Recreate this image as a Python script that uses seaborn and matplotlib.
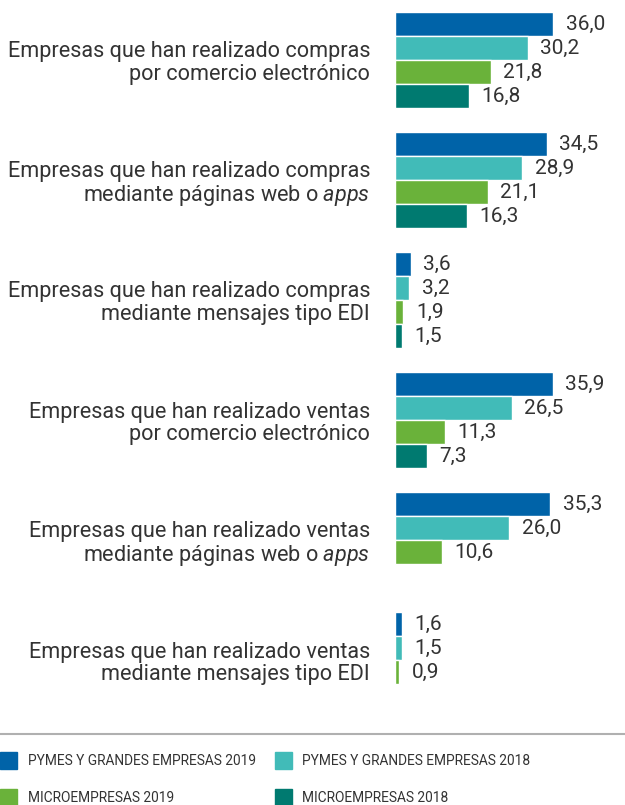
import matplotlib.pyplot as plt
import seaborn as sns
import pandas as pd
import numpy as np
from matplotlib.patches import Patch
from matplotlib.lines import Line2D

categories = [
    "Empresas que han realizado compras\npor comercio electrónico",
    "Empresas que han realizado compras\nmediante páginas web o $\\mathit{apps}$",
    "Empresas que han realizado compras\nmediante mensajes tipo EDI",
    "Empresas que han realizado ventas\npor comercio electrónico",
    "Empresas que han realizado ventas\nmediante páginas web o $\\mathit{apps}$",
    "Empresas que han realizado ventas\nmediante mensajes tipo EDI",
]
series = [
    "PYMES Y GRANDES EMPRESAS 2019",
    "PYMES Y GRANDES EMPRESAS 2018",
    "MICROEMPRESAS 2019",
    "MICROEMPRESAS 2018",
]
pymes_2019 = [36.0, 34.5, 3.6, 35.9, 35.3, 1.6]
pymes_2018 = [30.2, 28.9, 3.2, 26.5, 26.0, 1.5]
micro_2019 = [21.8, 21.1, 1.9, 11.3, 10.6, 0.9]
micro_2018 = [16.8, 16.3, 1.5, 7.3, np.nan, np.nan]
colors = ["#0063A8", "#41BBB8", "#6AB23A", "#007A70"]

rows = []
for name, vals in zip(series, [pymes_2019, pymes_2018, micro_2019, micro_2018]):
    for cat, v in zip(categories, vals):
        rows.append({"cat": cat, "serie": name, "valor": v})
df = pd.DataFrame(rows)

sns.set_style("white")
plt.rcParams["font.family"] = ["Roboto", "DejaVu Sans"]
plt.rcParams["mathtext.fontset"] = "custom"
plt.rcParams["mathtext.rm"] = "Roboto"
plt.rcParams["mathtext.it"] = "Roboto:italic"

fig = plt.figure(figsize=(6.25, 8.05), dpi=100)
ax = fig.add_axes([395 / 625, 85 / 805, 230 / 625, 720 / 805])

sns.barplot(data=df, y="cat", x="valor", hue="serie", order=categories,
            hue_order=series, palette=colors, orient="h", width=0.8,
            errorbar=None, saturation=1, legend=False, ax=ax)

for cont in ax.containers:
    labels = ["" if np.isnan(b.get_width()) else f"{b.get_width():.1f}".replace(".", ",")
              for b in cont]
    ax.bar_label(cont, labels=labels, padding=9, fontsize=15, color="#333333")

ax.set_xlim(0, 52.3)
ax.set_ylim(5.5, -0.5)
ax.set_xlabel("")
ax.set_ylabel("")
ax.set_xticks([])
ax.tick_params(axis="y", length=0, pad=18, labelsize=15.6, labelcolor="#333333")
for lab in ax.get_yticklabels():
    lab.set_multialignment("right")
    lab.set_linespacing(1.1)
sns.despine(ax=ax, left=True, bottom=True)

# separator line above legend
fig.add_artist(Line2D([0, 1], [1 - 734 / 805, 1 - 734 / 805], color="#b0b0b0", lw=1.5))

handles = [Patch(color=c) for c in colors]
order = [0, 2, 1, 3]
fig.legend([handles[i] for i in order], [series[i] for i in order],
           loc="upper left", bbox_to_anchor=(0.0, 1 - 752 / 805),
           ncol=2, frameon=False, fontsize=9.9, handlelength=1.25, handleheight=1.5,
           handletextpad=0.75, columnspacing=1.4, labelspacing=1.45, labelcolor="#333333",
           borderaxespad=0, borderpad=0)

fig.savefig("out.png", dpi=100, facecolor="white")
